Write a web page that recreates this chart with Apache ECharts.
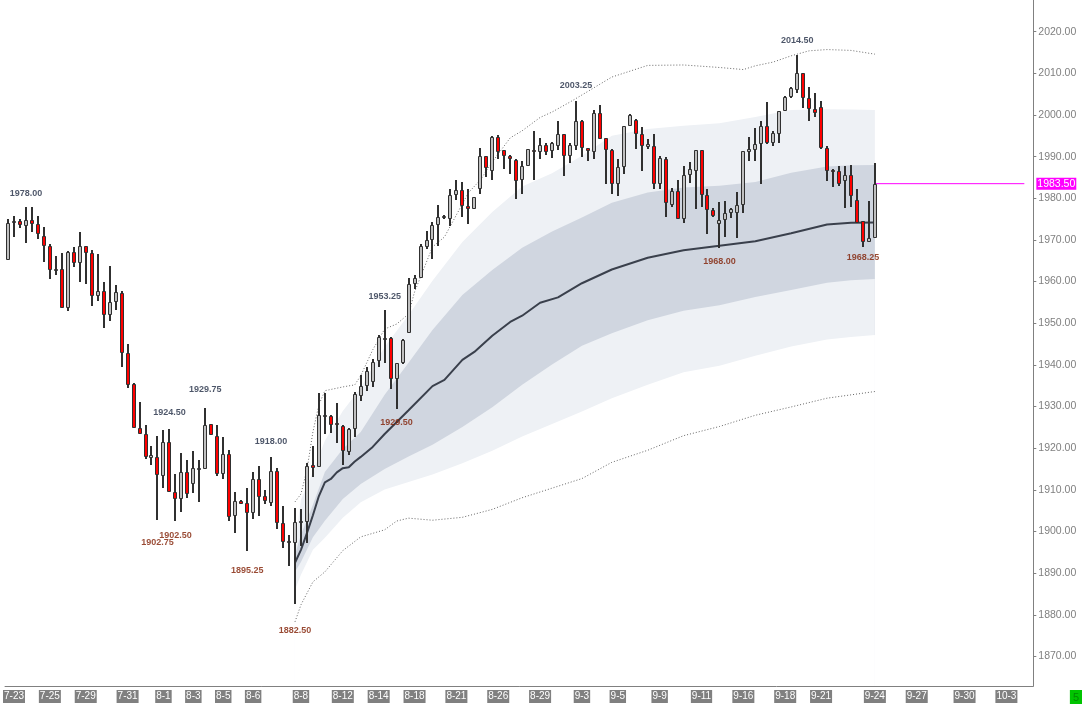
<!DOCTYPE html>
<html>
<head>
<meta charset="utf-8">
<title>ES candles</title>
<script src="https://cdn.jsdelivr.net/npm/echarts@6/dist/echarts.min.js"></script>
<style>
  html, body { margin: 0; padding: 0; background: #fff; }
  #chart { width: 1084px; height: 705px; }
</style>
</head>
<body>
<div id="chart"></div>
<script>
// bars, one per category slot starting at 0 (first partial bar at the left edge)
var opens = [1965.25,1974.0,1974.5,1973.25,1974.75,1973.75,1971.0,1968.5,1962.75,1963.0,
  1953.75,1967.0,1964.5,1968.5,1966.75,1956.5,1957.75,1952.0,1955.0,1957.25,
  1942.75,1935.5,1924.75,1923.5,1917.75,1918.0,1913.25,1921.5,1909.5,1907.75,
  1914.25,1911.5,1915.0,1915.0,1925.75,1923.0,1913.75,1918.5,1903.75,1907.25,
  1906.75,1904.5,1912.5,1908.5,1906.75,1914.5,1902.0,1897.5,1897.25,1902.25,
  1902.25,1916.0,1915.5,1927.75,1927.75,1926.0,1925.25,1919.0,1924.5,1932.5,
  1935.0,1936.0,1941.0,1946.25,1946.5,1936.5,1940.5,1947.75,1959.5,1960.75,
  1968.25,1970.0,1973.5,1975.5,1975.0,1980.75,1982.0,1978.25,1977.5,1982.25,
  1990.25,1986.5,1994.75,1991.5,1990.25,1989.25,1984.5,1987.75,1991.5,1991.0,
  1992.75,1991.25,1992.5,1995.5,1990.25,1992.5,1998.5,1992.0,1991.0,2000.5,
  1994.5,1991.5,1983.5,1987.5,1997.25,1998.75,1995.5,1992.25,1992.5,1983.5,
  1989.5,1978.5,1981.75,1975.0,1985.5,1986.5,1991.5,1980.75,1977.25,1973.75,
  1974.75,1976.5,1976.5,1978.5,1991.0,1991.5,1993.0,1997.25,1993.25,1995.5,
  2001.0,2004.25,2006.0,2010.0,2004.0,2001.5,2002.0,1992.0,1986.75,1986.5,
  1984.25,1985.5,1979.5,1974.5,1969.5,1970.5];
var highs = [1975.0,1975.75,1975.0,1978.0,1978.0,1975.75,1973.0,1969.0,1966.25,1966.75,
  1967.25,1968.25,1972.0,1968.5,1967.5,1966.5,1960.0,1963.75,1959.25,1957.75,
  1945.0,1935.75,1931.0,1925.5,1920.5,1923.0,1924.25,1924.5,1913.75,1918.75,
  1917.25,1919.25,1917.25,1929.75,1925.75,1925.5,1922.75,1919.5,1909.5,1907.5,
  1910.5,1914.25,1915.75,1910.0,1918.0,1915.25,1906.0,1899.25,1905.75,1905.5,
  1916.5,1920.5,1933.25,1933.25,1928.0,1930.75,1925.5,1924.75,1933.5,1937.5,
  1939.5,1941.5,1947.25,1953.25,1946.75,1940.5,1946.25,1960.75,1961.5,1969.0,
  1972.25,1974.25,1978.5,1976.0,1982.25,1984.5,1984.0,1982.25,1980.25,1992.0,
  1990.25,1995.0,1995.25,1991.5,1990.5,1989.5,1989.0,1991.75,1996.25,1994.5,
  1993.25,1993.5,1998.5,1995.5,1993.25,2003.25,1998.75,1992.0,2001.25,2002.5,
  1994.5,1991.75,1989.5,1997.25,2000.25,1999.0,1997.0,1994.25,1995.5,1990.25,
  1990.0,1982.5,1984.5,1987.75,1988.75,1991.5,1991.5,1982.25,1977.75,1979.0,
  1979.25,1977.75,1981.5,1991.25,1994.75,1996.75,1998.5,2003.0,1996.25,2001.0,
  2004.5,2006.75,2014.5,2010.0,2006.75,2005.25,2003.25,1992.5,1987.0,1987.75,
  1987.75,1988.0,1982.25,1974.5,1979.25,1988.5];
var lows = [1965.25,1970.75,1972.75,1969.25,1972.0,1970.25,1964.75,1960.5,1961.5,1953.75,
  1953.0,1963.5,1960.0,1959.5,1954.25,1955.25,1948.75,1950.5,1953.25,1939.5,
  1934.5,1924.75,1923.5,1917.5,1916.0,1902.75,1910.5,1909.5,1902.5,1904.75,
  1908.0,1909.25,1907.0,1915.0,1923.25,1913.25,1912.5,1902.5,1899.75,1906.5,
  1895.25,1903.0,1903.75,1906.5,1906.0,1900.5,1896.0,1891.75,1882.5,1896.5,
  1897.25,1913.0,1915.5,1923.5,1923.75,1921.25,1916.0,1918.25,1922.75,1931.25,
  1933.75,1934.75,1939.5,1940.5,1934.25,1929.5,1940.25,1947.75,1958.25,1960.75,
  1967.75,1965.5,1968.5,1975.0,1973.25,1979.5,1975.5,1973.75,1977.5,1981.0,
  1985.0,1984.5,1989.5,1987.0,1985.75,1979.75,1981.0,1987.75,1984.5,1989.5,
  1990.5,1989.75,1991.5,1985.25,1988.5,1991.5,1990.0,1989.0,1989.5,1994.25,
  1983.5,1981.0,1980.5,1985.75,1997.25,1991.75,1986.5,1991.75,1982.25,1982.25,
  1975.5,1978.0,1975.0,1974.0,1983.75,1977.5,1978.0,1971.5,1975.5,1968.0,
  1970.75,1975.25,1970.5,1976.5,1989.0,1989.0,1983.5,1993.0,1992.5,1993.25,
  2001.0,2004.0,2005.25,2001.75,1998.5,1999.5,1991.75,1984.25,1982.75,1983.0,
  1977.75,1978.0,1974.0,1968.25,1969.5,1970.5];
var closes = [1974.0,1974.5,1973.5,1974.75,1973.75,1971.5,1968.5,1962.75,1963.0,1953.75,
  1967.0,1964.5,1968.5,1966.75,1956.5,1957.75,1952.0,1955.0,1957.5,1942.75,
  1935.25,1924.75,1923.5,1918.0,1918.25,1913.5,1921.5,1909.5,1907.75,1914.25,
  1909.0,1915.25,1915.25,1925.5,1923.25,1913.75,1918.5,1903.5,1907.25,1906.5,
  1904.5,1912.5,1908.25,1907.25,1914.5,1902.0,1897.5,1897.75,1902.25,1902.5,
  1915.75,1915.25,1928.0,1928.0,1925.5,1925.5,1919.25,1924.5,1933.0,1935.0,
  1938.5,1940.75,1946.75,1946.5,1936.5,1940.5,1946.0,1959.5,1960.75,1968.5,
  1970.0,1973.5,1975.5,1975.75,1980.75,1982.0,1978.25,1977.5,1980.25,1990.25,
  1987.25,1994.75,1991.0,1990.25,1989.5,1984.25,1987.75,1991.75,1991.0,1992.75,
  1991.0,1993.25,1995.5,1990.25,1992.75,1998.5,1992.0,1991.25,2000.5,1994.25,
  1991.5,1983.5,1987.5,1997.25,2000.0,1995.5,1992.5,1993.0,1983.5,1989.75,
  1978.75,1981.75,1975.0,1985.5,1987.0,1991.5,1980.75,1977.25,1975.75,1974.75,
  1976.5,1977.5,1978.5,1991.25,1991.75,1993.0,1997.25,1993.25,1995.75,2001.0,
  2004.25,2006.5,2010.0,2004.0,2001.5,2000.5,1992.0,1986.5,1986.5,1983.5,
  1985.5,1980.5,1974.0,1969.5,1970.5,1983.5];

// date ticks (slot index -> label)
var tickIdx = [1,7,13,20,26,31,36,41,49,56,62,68,75,82,89,96,102,109,116,123,130,136,145,152,160,167];
var tickLabels = ['7-23','7-25','7-29','7-31','8-1','8-3','8-5','8-6','8-8','8-12','8-14','8-18','8-21',
  '8-26','8-29','9-3','9-5','9-9','9-11','9-16','9-18','9-21','9-24','9-27','9-30','10-3'];
var slotCount = 172;
var yTicks = [1870,1880,1890,1900,1910,1920,1930,1940,1950,1960,1970,1980,1990,2000,2010,2020];
var yMin = 1862.9, yMax = 2027.6;

// anchored average and its bands
var vwapIdx = [48,49,50,51,52,53,54,55,56,57,58,59,61,63,67,71,73,76,78,81,84,86,89,92,96,101,107,113,119,125,131,137,141,145];
var vwap = [1892.5,1895.6,1899.6,1903.9,1908.5,1911.8,1912.6,1914.2,1915.2,1915.4,1916.8,1917.9,1920.3,1923.4,1929.1,
  1934.9,1936.4,1941.2,1943.1,1947.0,1950.3,1951.8,1954.9,1956.2,1959.6,1962.9,1965.7,1967.5,1968.6,1969.7,1971.6,
  1973.7,1974.1,1974.2];
var bandIdx = [48,49,51,53,56,59,63,67,71,76,81,86,91,96,101,107,113,119,125,131,137,141,145];
var innerUp = [1894.4,1899.2,1906.4,1914.3,1919.8,1923.9,1932.8,1940.5,1948.4,1956.8,1962.8,1968.1,1972.0,1975.4,
  1978.9,1981.4,1982.6,1983.0,1983.9,1986.1,1987.6,1987.9,1988.0];
var innerLow = [1890.3,1892.7,1898.6,1902.6,1907.8,1911.4,1915.0,1918.0,1920.8,1925.1,1929.8,1935.2,1940.1,1944.6,
  1947.6,1950.7,1953.0,1954.3,1956.3,1958.0,1959.7,1960.3,1960.6];
var outerUp = [1896.8,1907.6,1914.3,1921.8,1928.9,1934.5,1944.3,1952.0,1960.2,1969.5,1976.7,1982.8,1986.0,1990.2,
  1995.0,1996.6,1997.4,1998.0,1999.5,2001.2,2001.4,2001.3,2001.2];
var outerLow = [1886.0,1889.6,1895.6,1898.5,1903.3,1907.0,1910.1,1911.9,1913.7,1916.4,1919.4,1922.8,1925.8,1928.8,
  1932.0,1935.2,1938.2,1939.8,1942.2,1944.4,1946.1,1946.7,1947.2];
var dotUpIdx = [48,49,50,51,52,53,56,58,59,61,63,65,67,68,69,71,73,75,77,79,81,84,86,89,91,94,96,101,107,113,119,
  123,125,128,131,134,137,141,145];
var dotUp = [1907.1,1909.0,1914.8,1923.9,1930.4,1933.8,1934.7,1935.2,1937.4,1943.6,1948.6,1949.8,1952.2,1957.5,
  1961.1,1968.3,1970.7,1976.0,1981.3,1984.4,1988.7,1994.5,1996.2,1999.4,2000.7,2003.1,2004.8,2009.1,2011.9,2012.0,
  2011.4,2010.9,2011.8,2012.7,2014.2,2015.4,2015.7,2015.5,2014.6];
var dotLowIdx = [48,49,51,53,56,59,63,65,67,71,76,81,86,91,96,101,107,113,119,125,131,137,141,145];
var dotLow = [1878.3,1882.4,1887.9,1890.3,1895.4,1898.7,1900.4,1902.5,1903.2,1902.7,1903.4,1905.3,1908.1,1910.4,
  1912.7,1916.6,1919.5,1923.0,1925.2,1927.9,1929.9,1932.0,1932.8,1933.6];

// swing labels (bar slots)
var hiMarks = [3,27,33,44,63,95,132];
var loMarks = [25,28,40,48,65,119,143];
var hiGap = [12.7,17.3,18.4,15,13,15.5,14];
var loGap = [22.3,14.3,19,26,14.3,13,10.4];

var lastSlot = opens.length - 1;
var lastLineEnd = 170;

var myChart = echarts.init(document.getElementById('chart'));

var cats = [];
for (var k = 0; k < slotCount; k++) cats.push(String(k));
var tickMap = {};
tickIdx.forEach(function (t, i) { tickMap[t] = tickLabels[i]; });

function pairs(idx, vals) {
  return idx.map(function (x, i) { return [x, vals[i]]; });
}

var candleData = opens.map(function (o, i) { return [i, o, closes[i], lows[i], highs[i]]; });

function renderCandle(params, api) {
  var k = api.value(0);
  var o = api.coord([k, api.value(1)]);
  var c = api.coord([k, api.value(2)]);
  var l = api.coord([k, api.value(3)]);
  var h = api.coord([k, api.value(4)]);
  var x = Math.round(o[0]);
  var up = api.value(2) >= api.value(1);
  var top = Math.round(Math.min(o[1], c[1]));
  var bot = Math.round(Math.max(o[1], c[1]));
  if (bot - top < 2) bot = top + 2;
  return {
    type: 'group',
    children: [
      { type: 'line', shape: { x1: x, y1: Math.round(h[1]), x2: x, y2: Math.round(l[1]) },
        style: { stroke: '#303030', lineWidth: 2 } },
      { type: 'rect', shape: { x: x - 1.5, y: top + 0.5, width: 3, height: bot - top - 1 },
        style: { fill: up ? '#c0c0c0' : '#ff0000', stroke: '#303030', lineWidth: 1 } }
    ]
  };
}

function areaSeries(data, color) {
  return {
    type: 'line', data: data, symbol: 'none', silent: true, z: 1,
    lineStyle: { width: 0, opacity: 0 },
    areaStyle: { color: color, opacity: 1, origin: 'start' }
  };
}

function markSeries(idx, vals, gaps, dir, color) {
  return {
    type: 'scatter', symbolSize: 0, silent: true, z: 6,
    data: idx.map(function (x, i) {
      return { value: [x, vals[x]], label: { offset: [0, dir * gaps[i]] } };
    }),
    label: {
      show: true, position: 'inside', color: color, fontSize: 9, fontWeight: 'bold',
      formatter: function (p) { return p.value[1].toFixed(2); }
    }
  };
}

option = {
  animation: false,
  textStyle: { fontFamily: 'Liberation Sans, Arial, sans-serif' },
  grid: { left: 1.3, right: 50.7, top: 0, bottom: 19 },
  xAxis: {
    type: 'category',
    data: cats,
    boundaryGap: true,
    z: 5,
    axisLine: { lineStyle: { color: '#808080', width: 1 } },
    axisTick: {
      alignWithLabel: true, length: 3,
      interval: function (i) { return tickMap[i] !== undefined; },
      lineStyle: { color: '#808080' }
    },
    axisLabel: {
      interval: function (i) { return tickMap[i] !== undefined; },
      formatter: function (v, i) { return tickMap[i] || ''; },
      color: '#ffffff', backgroundColor: '#808080', padding: [1, 1, 1, 1],
      fontSize: 10, lineHeight: 11, margin: 4
    },
    splitLine: { show: false }
  },
  yAxis: {
    type: 'value',
    position: 'right',
    min: yMin,
    max: yMax,
    z: 5,
    axisLine: { show: true, lineStyle: { color: '#808080' } },
    axisTick: { show: true, length: 3, customValues: yTicks, lineStyle: { color: '#808080' } },
    axisLabel: {
      customValues: yTicks, color: '#808080', fontSize: 10.5, margin: 5,
      formatter: function (v) { return v.toFixed(2); }
    },
    splitLine: { show: false }
  },
  series: [
    areaSeries(pairs(bandIdx, outerUp), '#eef1f5'),
    areaSeries(pairs(bandIdx, innerUp), '#d0d6e0'),
    areaSeries(pairs(bandIdx, innerLow), '#eef1f5'),
    areaSeries(pairs(bandIdx, outerLow), '#ffffff'),
    {
      type: 'line', data: pairs(dotUpIdx, dotUp), symbol: 'none', silent: true, z: 2,
      lineStyle: { color: '#666666', width: 1, type: [1, 2] }
    },
    {
      type: 'line', data: pairs(dotLowIdx, dotLow), symbol: 'none', silent: true, z: 2,
      lineStyle: { color: '#666666', width: 1, type: [1, 2] }
    },
    {
      type: 'line', data: pairs(vwapIdx, vwap), symbol: 'none', silent: true, z: 3,
      lineStyle: { color: '#3a404c', width: 2 }
    },
    {
      type: 'line', symbol: 'none', silent: true, z: 3,
      data: [[lastSlot, closes[lastSlot]], [lastLineEnd, closes[lastSlot]]],
      lineStyle: { color: '#ff00ff', width: 1 },
      endLabel: {
        show: true, distance: 12,
        formatter: function () { return closes[lastSlot].toFixed(2); },
        color: '#ffffff', backgroundColor: '#ff00ff', padding: [1, 1, 0, 1], fontSize: 10.5
      }
    },
    {
      type: 'custom', renderItem: renderCandle, data: candleData, z: 4, silent: true,
      encode: { x: 0, y: [1, 2, 3, 4] }
    },
    markSeries(hiMarks, highs, hiGap, -1, '#1f2a42'),
    markSeries(loMarks, lows, loGap, 1, '#7f1d00')
  ],
  graphic: [
    {
      type: 'text', right: 2, bottom: 1,
      style: { text: '5', fill: '#008a00', backgroundColor: '#00c400', padding: [2, 3, 1, 3],
        font: '11px Liberation Sans' }
    }
  ]
};

myChart.setOption(option);
</script>
</body>
</html>
